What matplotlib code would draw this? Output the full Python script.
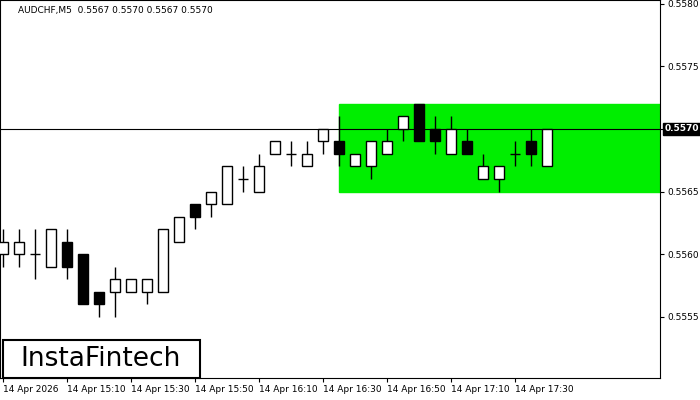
import matplotlib.pyplot as plt
from matplotlib.patches import Rectangle

opens = [0.5560, 0.5560, 0.5560, 0.5559, 0.5561, 0.5560, 0.5557, 0.5557, 0.5557, 0.5557,
         0.5557, 0.5561, 0.5564, 0.5564, 0.5564, 0.5566, 0.5565, 0.5568, 0.5568, 0.5567,
         0.5569, 0.5569, 0.5567, 0.5567, 0.5568, 0.5570, 0.5572, 0.5570, 0.5568, 0.5569,
         0.5566, 0.5566, 0.5568, 0.5569, 0.5567]
closes = [0.5561, 0.5561, 0.5560, 0.5562, 0.5559, 0.5556, 0.5556, 0.5558, 0.5558, 0.5558,
          0.5562, 0.5563, 0.5563, 0.5565, 0.5567, 0.5566, 0.5567, 0.5569, 0.5568, 0.5568,
          0.5570, 0.5568, 0.5568, 0.5569, 0.5569, 0.5571, 0.5569, 0.5569, 0.5570, 0.5568,
          0.5567, 0.5567, 0.5568, 0.5568, 0.5570]
highs = [0.5562, 0.5562, 0.5562, 0.5562, 0.5562, 0.5560, 0.5557, 0.5559, 0.5558, 0.5558,
         0.5562, 0.5563, 0.5564, 0.5565, 0.5567, 0.5567, 0.5568, 0.5569, 0.5569, 0.5569,
         0.5570, 0.5571, 0.5568, 0.5569, 0.5570, 0.5571, 0.5572, 0.5571, 0.5571, 0.5570,
         0.5568, 0.5567, 0.5569, 0.5570, 0.5570]
lows = [0.5559, 0.5559, 0.5558, 0.5559, 0.5558, 0.5556, 0.5555, 0.5555, 0.5557, 0.5556,
        0.5557, 0.5561, 0.5562, 0.5563, 0.5564, 0.5565, 0.5565, 0.5568, 0.5567, 0.5567,
        0.5568, 0.5567, 0.5567, 0.5566, 0.5568, 0.5569, 0.5569, 0.5568, 0.5568, 0.5568,
        0.5566, 0.5565, 0.5567, 0.5567, 0.5567]
tick_pos = [0, 4, 8, 12, 16, 20, 24, 28, 32]
tick_labels = ['14 Apr 2026', '14 Apr 15:10', '14 Apr 15:30', '14 Apr 15:50', '14 Apr 16:10',
               '14 Apr 16:30', '14 Apr 16:50', '14 Apr 17:10', '14 Apr 17:30']
price_ticks = [0.5555, 0.5560, 0.5565, 0.5570, 0.5575, 0.5580]
zone = (21, 0.5565, 0.5572)   # start candle, bottom, top
last_price = 0.5570

fig = plt.figure(figsize=(7, 4), dpi=100)
ax = fig.add_axes([0, 0.055, 660 / 700, 0.945])
ax.set_xlim(-0.19, 41.06)
ax.set_ylim(0.55501, 0.55803)

ax.add_patch(Rectangle((zone[0], zone[1]), 41.06 - zone[0], zone[2] - zone[1],
                       color='#00ee00', zorder=1))
ax.axhline(last_price, color='black', lw=0.8, zorder=2)

w = 0.6
for i, (o, c, h, l) in enumerate(zip(opens, closes, highs, lows)):
    ax.vlines(i, l, h, color='black', lw=1, zorder=3)
    if o == c:
        ax.hlines(o, i - w / 2, i + w / 2, color='black', lw=1, zorder=4)
    else:
        ax.add_patch(Rectangle((i - w / 2, min(o, c)), w, abs(c - o),
                               facecolor='white' if c > o else 'black',
                               edgecolor='black', lw=1, zorder=4))

ax.yaxis.tick_right()
ax.set_yticks(price_ticks)
ax.set_yticklabels(['' if p == last_price else f'{p:.4f}' for p in price_ticks], fontsize=6.5)
ax.set_xticks(tick_pos)
ax.set_xticklabels(tick_labels, fontsize=6.5, ha='left')
ax.tick_params(length=3, pad=2)
for s in ax.spines.values():
    s.set_linewidth(0.8)

ax.annotate('0.5570', xy=(1.0, last_price), xycoords=('axes fraction', 'data'),
            xytext=(3, 0), textcoords='offset points', va='center', fontsize=6.5,
            color='white', fontweight='bold',
            bbox=dict(boxstyle='square,pad=0.15', fc='black', ec='black'))

ax.text(0.027, 0.985, 'AUDCHF,M5  0.5567 0.5570 0.5567 0.5570', transform=ax.transAxes,
        fontsize=6.5, va='top')

fig.patches.append(Rectangle((3 / 700, 1 - 378 / 400), 197 / 700, 38 / 400,
                             transform=fig.transFigure, fc='white', ec='black', lw=1.5,
                             zorder=10))
fig.text(101 / 700, 1 - 359 / 400, 'InstaFintech', fontsize=19, ha='center', va='center',
         zorder=11)

fig.savefig('out.png')
